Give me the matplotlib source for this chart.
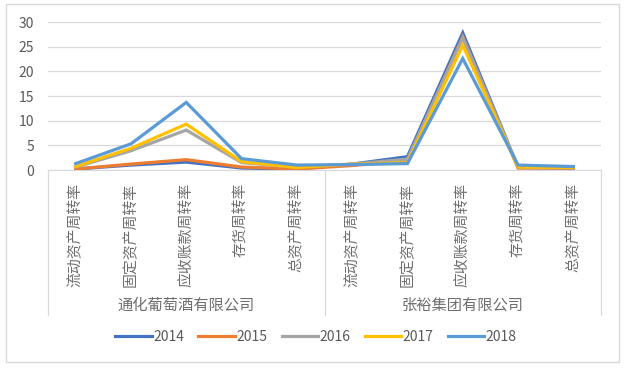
import matplotlib
matplotlib.use("Agg")
import matplotlib.pyplot as plt
from matplotlib.lines import Line2D
from matplotlib.patches import Rectangle

plt.rcParams['font.family'] = ['Noto Sans CJK SC', 'DejaVu Sans']

# --- data ---
companies = ['通化葡萄酒有限公司', '张裕集团有限公司']
metrics = ['流动资产周转率', '固定资产周转率', '应收账款周转率', '存货周转率', '总资产周转率']
years = ['2014', '2015', '2016', '2017', '2018']

v2014 = [0.2, 1.0, 1.6, 0.4, 0.2, 1.2, 2.7, 27.8, 0.5, 0.4]
v2015 = [0.2, 1.2, 2.1, 0.6, 0.2, 0.9, 1.9, 27.0, 0.4, 0.4]
v2016 = [0.6, 3.9, 8.1, 1.5, 0.6, 1.2, 2.2, 26.8, 0.6, 0.5]
v2017 = [0.7, 4.4, 9.3, 1.7, 0.5, 1.2, 1.5, 25.3, 0.6, 0.5]
v2018 = [1.3, 5.3, 13.7, 2.3, 1.0, 1.1, 1.3, 22.6, 1.0, 0.7]
series = [v2014, v2015, v2016, v2017, v2018]
colors = ['#4472C4', '#ED7D31', '#A5A5A5', '#FFC000', '#5B9BD5']

W, H = 626, 378
fig = plt.figure(figsize=(W / 100, H / 100), dpi=100)

# plot area in pixel terms
left, right, top, bottom = 48, 601, 22, 170
ax = fig.add_axes([left / W, 1 - bottom / H, (right - left) / W, (bottom - top) / H])

n = len(companies) * len(metrics)
xs = list(range(n))
for vals, c, y in zip(series, colors, years):
    ax.plot(xs, vals, color=c, lw=2.3, label=y, solid_joinstyle='miter', zorder=3)

ax.set_xlim(-0.5, n - 0.5)
ax.set_ylim(0, 30)
ax.set_yticks([0, 5, 10, 15, 20, 25, 30])
ax.yaxis.grid(True, color='#D9D9D9', lw=0.9)
ax.set_axisbelow(True)
for s in ['top', 'right', 'left']:
    ax.spines[s].set_visible(False)
ax.spines['bottom'].set_color('#D9D9D9')
ax.tick_params(axis='y', length=0, pad=10, labelsize=10, labelcolor='#595959')

ax.set_xticks(xs)
ax.set_xticklabels(metrics * len(companies), rotation=90, va='top', ha='center',
                   fontsize=10.7, color='#6E6E6E')
ax.tick_params(axis='x', length=0, pad=9)

# multi-level category separators and group labels
for px in [left, (left + right) / 2, right]:
    fig.add_artist(Line2D([px / W, px / W], [1 - 170 / H, 1 - 315 / H],
                          color='#D9D9D9', lw=0.9))
half = (right - left) / 2
for i, name in enumerate(companies):
    cx = left + half * (i + 0.5)
    fig.text(cx / W, 1 - 305 / H, name, ha='center', va='center',
             fontsize=11, color='#6E6E6E')

leg = fig.legend(loc='center', bbox_to_anchor=(0.505, 1 - 337 / H), ncol=5,
                 frameon=False, fontsize=10, handlelength=2.6, handletextpad=0.15,
                 columnspacing=1.0)
for t in leg.get_texts():
    t.set_color('#595959')

# chart border
fig.add_artist(Rectangle((6 / W, 1 - 362 / H), 613 / W, 358 / H, fill=False,
                         edgecolor='#D9D9D9', lw=1, transform=fig.transFigure))

fig.savefig('out.png', dpi=100)
